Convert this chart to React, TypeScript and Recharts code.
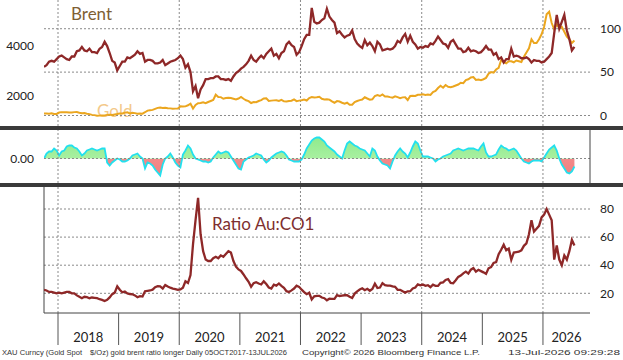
import { Area, ComposedChart, Line, ReferenceLine, XAxis, YAxis } from 'recharts'

// Gold vs Brent, the oscillator strip and the Au:CO1 ratio, Bloomberg style.
// One observation every half month from 05 Oct 2017 to 13 Jul 2026.

const START = 2017.769 // 05 Oct 2017, first observation
const END = 2026.776 // right edge of the plot area

const years = [2018, 2019, 2020, 2021, 2022, 2023, 2024, 2025, 2026]
const gridYears = [2018, 2020, 2022, 2024, 2026]
const yearLabelAt = [2018.5, 2019.5, 2020.5, 2021.5, 2022.5, 2023.5, 2024.5, 2025.5, 2026.39]
const brentTicks = [0, 50, 100]
const goldTicks = [2000, 4000]
const ratioTicks = [20, 40, 60, 80]
const oscTicks = [0]

const brent = [
  56, 58, 62, 63, 62, 65,
  68, 69, 67, 65, 64, 68, 68, 74, 75, 79, 75, 74, 77, 73, 73, 72, 77, 79, 85, 80, 72, 63, 61, 52,
  57, 62, 62, 67, 66, 68, 70, 74, 71, 72, 62, 64, 64, 63, 60, 60, 61, 64, 58, 60, 62, 63, 64, 66,
  69, 65, 55, 59, 50, 28, 34, 20, 30, 35, 42, 42, 43, 43, 45, 45, 42, 42, 41, 42, 40, 45, 49, 51,
  54, 56, 59, 63, 69, 64, 62, 66, 69, 66, 71, 74, 77, 69, 71, 66, 72, 74, 82, 85, 81, 79, 70, 73,
  80, 88, 93, 93, 124, 108, 106, 107, 110, 112, 123, 114, 110, 107, 95, 97, 93, 90, 92, 93, 98, 88, 83, 80,
  78, 87, 81, 84, 80, 74, 85, 82, 75, 76, 77, 76, 77, 80, 86, 84, 90, 94, 85, 92, 85, 82, 77, 79,
  78, 80, 79, 83, 82, 86, 91, 87, 83, 82, 78, 85, 87, 82, 77, 77, 73, 74, 78, 74, 75, 74, 72, 73,
  76, 80, 76, 76, 70, 72, 65, 67, 61, 65, 65, 77, 68, 69, 68, 66, 66, 67, 65, 61, 64, 63, 63, 61,
  62, 65, 68, 72, 95, 116, 100, 108, 116, 98, 88, 75, 79,
]

const gold = [
  1275, 1280, 1275, 1290, 1265, 1265,
  1320, 1335, 1335, 1330, 1320, 1320, 1335, 1340, 1310, 1290, 1295, 1270, 1255, 1225, 1215, 1190, 1195, 1200, 1205, 1225, 1230, 1220, 1240, 1260,
  1285, 1285, 1315, 1330, 1285, 1310, 1295, 1275, 1280, 1275, 1330, 1395, 1410, 1425, 1465, 1505, 1520, 1500, 1505, 1490, 1485, 1470, 1475, 1480,
  1565, 1560, 1565, 1610, 1670, 1480, 1620, 1690, 1700, 1730, 1690, 1740, 1780, 1820, 2030, 1940, 1935, 1870, 1900, 1910, 1900, 1870, 1840, 1880,
  1940, 1870, 1810, 1775, 1700, 1740, 1730, 1780, 1815, 1880, 1890, 1780, 1795, 1805, 1810, 1780, 1825, 1765, 1760, 1780, 1790, 1845, 1775, 1795,
  1810, 1840, 1800, 1900, 1935, 1920, 1930, 1950, 1870, 1845, 1850, 1835, 1765, 1710, 1775, 1760, 1710, 1670, 1710, 1630, 1630, 1740, 1780, 1815,
  1840, 1930, 1880, 1835, 1850, 1980, 2020, 1980, 2040, 1960, 1960, 1935, 1915, 1970, 1935, 1890, 1925, 1930, 1820, 1980, 1990, 1980, 2030, 2030,
  2045, 2025, 2035, 2025, 2140, 2180, 2300, 2390, 2310, 2420, 2350, 2330, 2360, 2400, 2440, 2510, 2495, 2620, 2650, 2720, 2740, 2620, 2640, 2615,
  2650, 2705, 2870, 2935, 2915, 3040, 3110, 3420, 3330, 3290, 3370, 3370, 3330, 3400, 3370, 3340, 3550, 3720, 3890, 4250, 4100, 4100, 4250, 4450,
  4750, 5250, 5350, 4900, 4650, 4850, 4700, 4750, 4550, 4350, 4250, 4100, 4200,
]

const ratio = [
  22.5, 22, 21, 21, 20.5, 20,
  20.5, 20, 20.5, 21, 21, 20, 20, 18.5, 17.5, 16.5, 17.5, 17.2, 16.5, 17, 16.8, 16.5, 15.8, 15.3, 14.5, 15.3, 17.1, 19.4, 20.5, 25,
  22.5, 20.7, 21.2, 19.9, 19.5, 19.3, 18.5, 17.2, 18, 17.7, 21.5, 21.8, 22, 22.6, 24.4, 25.1, 24.9, 23.4, 25.9, 24.8, 24, 23.3, 23, 22.4,
  22.7, 24, 28.5, 27.3, 33, 55, 72, 88, 62, 50, 44, 43, 43, 45, 46, 45, 47, 46, 48, 50, 49, 43, 39, 37,
  35.9, 33.4, 30.7, 28.2, 24.6, 27.2, 27.9, 27, 26.3, 28.5, 26.6, 24.1, 23.3, 26.2, 25.5, 27, 25.3, 23.9, 21.5, 20.9, 22.1, 23.4, 25.4, 24.6,
  22.6, 20.9, 19.4, 20.4, 15.6, 17.8, 18.2, 18.2, 17, 16.5, 15, 16.1, 16, 16, 18.7, 18.1, 18.4, 18.6, 18.6, 17.5, 16.6, 19.8, 21.4, 22.7,
  23.6, 22.2, 23.2, 21.8, 23.1, 26.8, 23.8, 24.1, 27.2, 25.8, 25.5, 25.5, 24.9, 24.6, 22.5, 22.5, 21.4, 20.5, 21.4, 21.5, 23.4, 24.1, 26.4, 25.7,
  26.2, 25.3, 25.8, 24.4, 26.1, 25.3, 25.3, 27.5, 27.8, 29.5, 30.1, 27.4, 27.1, 29.3, 31.7, 32.6, 34.2, 35.4, 34, 36.8, 38, 35.4, 36.7, 35.8,
  34.9, 33.8, 37.8, 38.6, 41.6, 42.2, 47.8, 51, 54.6, 50.6, 51.8, 43.8, 49, 49.3, 49.6, 50.6, 53.8, 55.5, 62, 72, 64, 66, 68, 74,
  76, 80, 76, 72, 44, 54, 44, 40, 47, 44, 50, 58, 54,
]

const osc = [
  0, 5, 7, 7, 10, 8,
  3, 7, 8, 12, 13, 13, 11, 10, 7, 3, 5, 8, 9, 10, 9, 8, 9, 10, 10, -4, -7, -4, -2, 0,
  -1, -3, -3, -2, 0, 3, 4, 5, 2, 0, -10, -4, -5, -7, -11, -14, -17, -6, 0, 2, 5, 1, -4, -7,
  -9, 4, 8, 13, 10, 4, 0, -1, -2, -3, -3, -4, -3, 1, 4, 7, 5, 6, 7, 6, 2, -2, -6, -10,
  -11, -3, -1, 1, 2, 3, 5, 4, 3, -1, -4, -2, 1, 3, 5, 6, 7, 6, 3, -1, -2, -3, -3, -3,
  -1, 4, 10, 14, 18, 20, 21, 21, 19, 17, 13, 11, 9, 7, 4, 2, 0, 8, 15, 17, 15, 13, 12, 10,
  9, 8, 5, 2, 10, 8, 2, -2, -5, -6, -7, -10, -3, 3, 7, 10, 7, 5, 1, 6, 12, 17, 15, 8,
  2, 2, 2, 1, 0, -3, -1, 0, 2, 3, 4, 5, 8, 9, 10, 9, 8, 9, 10, 10, 10, 9, 8, 12,
  15, 6, 2, 2, 3, 4, 9, 13, 11, 10, 8, 9, 10, 8, 4, 0, -3, -4, -5, -3, -2, -2, -2, -3,
  1, 5, 9, 11, 13, 8, 0, -6, -10, -14, -15, -13, -8,
]

const data = brent.map((b, i) => ({
  t: START + i / 24,
  brent: b,
  gold: gold[i],
  ratio: ratio[i],
  osc: osc[i],
}))

const W = 623
const GRID = '#8a8a8a'
const DASH = '2 2'
const TICK = { fill: '#222', fontSize: 12, fontFamily: 'Lato, sans-serif' }
const OSC_DOMAIN: [number, number] = [-24.5, 28.5]

function YearTick(props: any) {
  const { x, y, payload } = props
  const v = payload.value as number
  if (Number.isInteger(v)) {
    return <line x1={x} y1={y} x2={x} y2={y + 32} stroke="#555" />
  }
  return (
    <text x={x} y={y + 29} textAnchor="middle" fontSize={13} fill="#222" fontFamily="Lato, sans-serif">
      {Math.floor(v)}
    </text>
  )
}

function PriceChart() {
  return (
    <ComposedChart width={W} height={126} data={data} margin={{ top: 0, right: 0, bottom: 0, left: 0 }}>
      <XAxis dataKey="t" type="number" domain={[START, END]} allowDataOverflow hide />
      <YAxis
        yAxisId="gold"
        orientation="left"
        width={44}
        domain={[780, 5820]}
        allowDataOverflow
        ticks={goldTicks}
        axisLine={false}
        tickLine={false}
        tickSize={0}
        tickMargin={10}
        tick={TICK}
      />
      <YAxis
        yAxisId="brent"
        orientation="right"
        width={33}
        domain={[-12.1, 133.1]}
        allowDataOverflow
        ticks={brentTicks}
        axisLine={false}
        tickLine={false}
        tickSize={0}
        tickMargin={10}
        tick={TICK}
      />
      {brentTicks.map((v) => (
        <ReferenceLine key={'h' + v} yAxisId="brent" y={v} stroke={GRID} strokeDasharray={DASH} />
      ))}
      {gridYears.map((v) => (
        <ReferenceLine key={'v' + v} yAxisId="brent" x={v} stroke={GRID} strokeDasharray={DASH} />
      ))}
      <Line yAxisId="gold" dataKey="gold" stroke="#eba61f" strokeWidth={2} dot={false} isAnimationActive={false} />
      <Line yAxisId="brent" dataKey="brent" stroke="#8e2828" strokeWidth={2.3} dot={false} isAnimationActive={false} />
    </ComposedChart>
  )
}

function OscChart() {
  const zeroAt = OSC_DOMAIN[1] / (OSC_DOMAIN[1] - OSC_DOMAIN[0])
  return (
    <ComposedChart width={W} height={53} data={data} margin={{ top: 0, right: 33, bottom: 0, left: 0 }}>
      <defs>
        <linearGradient id="oscFill" gradientUnits="userSpaceOnUse" x1="0" y1="0" x2="0" y2="53">
          <stop offset={0} stopColor="#86e886" />
          <stop offset={zeroAt} stopColor="#a8f0a0" />
          <stop offset={zeroAt} stopColor="#f28a8a" />
          <stop offset={1} stopColor="#f07a7a" />
        </linearGradient>
      </defs>
      <XAxis dataKey="t" type="number" domain={[START, END]} allowDataOverflow hide />
      <YAxis
        orientation="left"
        width={44}
        domain={OSC_DOMAIN}
        allowDataOverflow
        ticks={oscTicks}
        tickFormatter={(v: number) => v.toFixed(2)}
        axisLine={false}
        tickLine={false}
        tickSize={0}
        tickMargin={10}
        tick={TICK}
      />
      {gridYears.map((v) => (
        <ReferenceLine key={'v' + v} x={v} stroke={GRID} strokeDasharray={DASH} />
      ))}
      <ReferenceLine y={0} stroke={GRID} strokeDasharray={DASH} />
      <ReferenceLine x={END} stroke="#444" />
      <Area
        dataKey="osc"
        type="linear"
        baseValue={0}
        stroke="#22e0ee"
        strokeWidth={1.8}
        fill="url(#oscFill)"
        fillOpacity={1}
        dot={false}
        isAnimationActive={false}
      />
    </ComposedChart>
  )
}

function RatioChart() {
  return (
    <ComposedChart width={W} height={160} data={data} margin={{ top: 0, right: 0, bottom: 0, left: 44 }}>
      <XAxis
        dataKey="t"
        type="number"
        domain={[START, END]}
        allowDataOverflow
        ticks={[...years, ...yearLabelAt]}
        interval={0}
        height={34}
        tickLine={false}
        tickSize={0}
        tickMargin={0}
        axisLine={{ stroke: '#444' }}
        tick={(p: any) => <YearTick {...p} />}
      />
      <YAxis
        yAxisId="ratio"
        orientation="right"
        width={33}
        domain={[5.98, 95.66]}
        allowDataOverflow
        ticks={ratioTicks}
        axisLine={false}
        tickLine={false}
        tickSize={0}
        tickMargin={10}
        tick={TICK}
      />
      {ratioTicks.map((v) => (
        <ReferenceLine key={'h' + v} yAxisId="ratio" y={v} stroke={GRID} strokeDasharray={DASH} />
      ))}
      {gridYears.map((v) => (
        <ReferenceLine key={'v' + v} yAxisId="ratio" x={v} stroke={GRID} strokeDasharray={DASH} />
      ))}
      <ReferenceLine yAxisId="ratio" x={START} stroke="#444" />
      <Line yAxisId="ratio" dataKey="ratio" stroke="#8e2828" strokeWidth={2.3} dot={false} isAnimationActive={false} />
    </ComposedChart>
  )
}

export default function App() {
  return (
    <div
      style={{
        position: 'absolute',
        left: 0,
        top: 0,
        width: W,
        height: 360,
        background: '#fff',
        overflow: 'hidden',
      }}
    >
      <svg width={W} height={360} style={{ position: 'absolute', left: 0, top: 0 }}>
        <g fontFamily="Lato, sans-serif" fontSize={17}>
          <text x={71} y={20} fill="#7f5f34">Brent</text>
          <text x={97} y={117} fill="#f3c98a">Gold</text>
          <text x={212} y={230} fill="#7e2f2f">Ratio Au:CO1</text>
        </g>
        <g fontFamily="Liberation Sans, sans-serif" fontSize={7.2} fill="#333">
          <text x={2} y={355} textLength={80} lengthAdjust="spacingAndGlyphs">
            XAU Curncy (Gold Spot
          </text>
          <text x={90} y={355} textLength={197} lengthAdjust="spacingAndGlyphs">
            $/Oz) gold brent ratio longer Daily 05OCT2017-13JUL2026
          </text>
          <text x={302} y={355} textLength={178} lengthAdjust="spacingAndGlyphs">
            Copyright© 2026 Bloomberg Finance L.P.
          </text>
          <text x={508} y={355} textLength={112} lengthAdjust="spacingAndGlyphs">
            13-Jul-2026 09:29:28
          </text>
        </g>
      </svg>
      <div style={{ position: 'absolute', left: 0, top: 0 }}>
        <PriceChart />
      </div>
      <div style={{ position: 'absolute', left: 0, top: 126, width: W, height: 4, background: '#3a3a3a' }} />
      <div style={{ position: 'absolute', left: 0, top: 130 }}>
        <OscChart />
      </div>
      <div style={{ position: 'absolute', left: 0, top: 183, width: W, height: 4, background: '#3a3a3a' }} />
      <div style={{ position: 'absolute', left: 0, top: 187 }}>
        <RatioChart />
      </div>
    </div>
  )
}
